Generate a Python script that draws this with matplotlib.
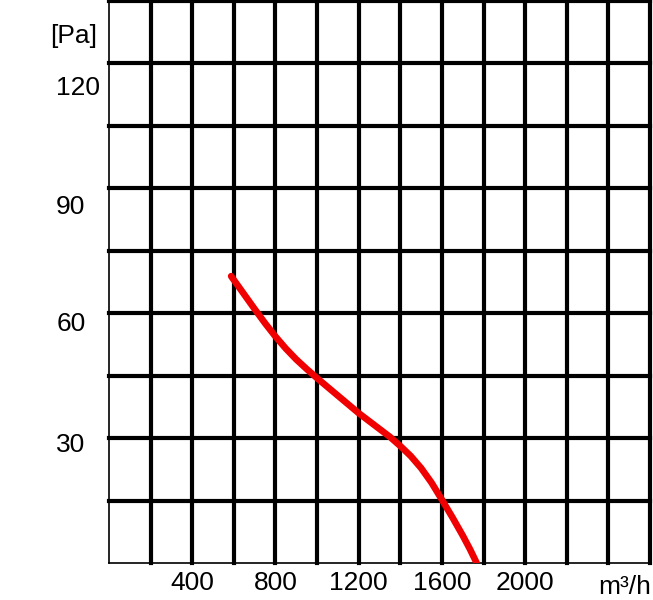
import matplotlib.pyplot as plt
from matplotlib.transforms import ScaledTranslation
import numpy as np

# fan curve (m3/h, Pa)
flow = [587, 650, 700, 750, 800, 850, 900, 950, 1000, 1050, 1100, 1150, 1200,
        1250, 1300, 1350, 1400, 1450, 1500, 1550, 1600, 1650, 1700, 1735, 1767]
pressure = [68.9, 64.5, 61.0, 57.6, 54.4, 51.5, 48.9, 46.6, 44.4, 42.3, 40.2, 38.1, 36.0,
            34.1, 32.2, 30.3, 28.1, 25.7, 22.8, 19.3, 15.2, 11.0, 6.6, 3.3, 0.0]

x_grid = np.arange(200, 2601, 200)
y_grid = np.arange(15, 136, 15)
x_label_pos = [400, 800, 1200, 1600, 2000]
x_labels = ['400', '800', '1200', '1600', '2000']
y_label_pos = [30, 60, 90, 120]
y_labels = ['30', '60', '90', '120']

plt.rcParams['font.family'] = ['Liberation Sans', 'DejaVu Sans']
FS = 19

fig = plt.figure(figsize=(6.53, 6.0), dpi=100)
W, H = 653, 600
ax = fig.add_axes([109 / W, 37 / H, 541 / W, 562 / H])
ax.set_xlim(0, 2600)
ax.set_ylim(0, 135)

for x in x_grid:
    ax.axvline(x, color='black', lw=3, zorder=1, clip_on=False)
for y in y_grid:
    ax.axhline(y, color='black', lw=3, zorder=1, clip_on=False)

ax.plot(flow, pressure, color='#f00000', lw=4.8, solid_capstyle='round',
        solid_joinstyle='round', zorder=3)

for s in ['top', 'right']:
    ax.spines[s].set_visible(False)
for s in ['left', 'bottom']:
    ax.spines[s].set_linewidth(1.2)

ax.set_xticks(x_label_pos)
ax.set_xticklabels(x_labels, fontsize=FS)
ax.set_yticks(y_label_pos)
ax.set_yticklabels(y_labels, fontsize=FS, ha='left')
ax.tick_params(axis='x', length=0, pad=5.5)
ax.tick_params(axis='y', length=0, pad=38)

# the y labels sit a little below their grid lines in the original
shifts = [4.5, 8, 16, 22.5]
for lab, dy in zip(ax.get_yticklabels(), shifts):
    lab.set_transform(lab.get_transform() + ScaledTranslation(0, -dy / 100, fig.dpi_scale_trans))

fig.text(50 / W, 1 - 36 / H, '[Pa]', fontsize=FS, ha='left', va='center')
fig.text(651 / W, 1 - 587 / H, 'm³/h', fontsize=FS, ha='right', va='center')

fig.savefig('out.png', dpi=100)
